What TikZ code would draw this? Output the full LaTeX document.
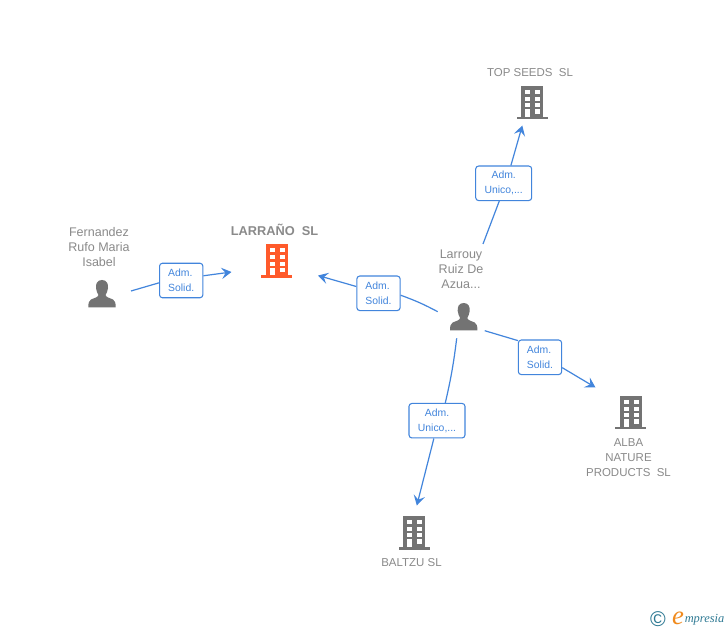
\documentclass[tikz,border=0pt]{standalone}
\usepackage{fontspec}
\setmainfont{Liberation Sans}
\newfontfamily\logofont{Liberation Serif}
\usetikzlibrary{arrows.meta}
\definecolor{linkblue}{HTML}{4285DC}
\definecolor{icongray}{HTML}{737373}
\definecolor{textgray}{HTML}{8A8A8A}
\definecolor{bldorange}{HTML}{FF5A2B}
\definecolor{logoteal}{HTML}{2F7A94}
\definecolor{logoorange}{HTML}{F08A1D}
\tikzset{
  x=0.75pt,y=-0.75pt,
  link/.style={draw=linkblue,line width=0.9pt},
  arrowed/.style={link,-{Stealth[length=7.5pt,width=8.5pt,inset=3pt]}},
  rolebox/.style={draw=linkblue,line width=0.8pt,rounded corners=2.2pt,fill=white,
    minimum height=25.9pt,inner sep=0pt,text=linkblue,font=\fontsize{7.8}{11.2}\selectfont,
    execute at begin node={\rule{0pt}{7.6pt}\ignorespaces}},
  narrow/.style={minimum width=32.5pt,align=left},
  wide/.style={minimum width=42pt,align=center},
  lbl/.style={text=textgray,align=center,inner sep=0pt,font=\fontsize{8.6}{11.25}\selectfont},
  lblmixed/.style={lbl,font=\fontsize{9.4}{11.25}\selectfont},
  pics/bld/.style={code={
    \fill[#1] (-11,0) rectangle (11,31);
    \fill[#1] (-15.5,31) rectangle (15.5,33.5);
    \foreach \wy in {4.1,10.8,17.4}{
      \fill[white] (-7.2,\wy) rectangle (-2.2,\wy+4);
      \fill[white] (2.8,\wy) rectangle (7.8,\wy+4);
    }
    \fill[white] (-6.9,23.4) rectangle (-2.2,31);
    \fill[white] (2.8,23.4) rectangle (7.8,27.9);
  }},
  pics/person/.style={code={
    \fill[icongray] (0,0) .. controls (-5,0) and (-6.3,4) .. (-6,8)
      .. controls (-5.8,11) and (-4.5,13) .. (-3.6,15)
      .. controls (-4,17.5) and (-8,18) .. (-11,19.5)
      .. controls (-13,20.5) and (-13.7,23) .. (-13.7,27.5)
      -- (13.7,27.5)
      .. controls (13.7,23) and (13,20.5) .. (11,19.5)
      .. controls (8,18) and (4,17.5) .. (3.6,15)
      .. controls (4.5,13) and (5.8,11) .. (6,8)
      .. controls (6.3,4) and (5,0) .. (0,0) -- cycle;
  }}
}
\begin{document}
\begin{tikzpicture}
\useasboundingbox (0,0) rectangle (728,630);
\fill[white] (0,0) rectangle (728,630);

% icons
\pic at (532,86) {bld=icongray};
\pic at (276.7,244.3) {bld=bldorange};
\pic at (630.7,396) {bld=icongray};
\pic at (414,516) {bld=icongray};
\pic at (102,280) {person};
\pic at (463.7,303) {person};

% labels
\node[lbl] (topl) at (530,72.5) {TOP SEEDS\ \ SL};
\node[lbl,font=\fontsize{9.6}{11.25}\selectfont\bfseries] (larl) at (274.5,230) {LARRAÑO\ \ SL};
\node[lblmixed] (ferl) at (99,247) {Fernandez\\Rufo Maria\\Isabel};
\node[lblmixed] (lrrl) at (461,269) {Larrouy\\Ruiz De\\Azua...};
\node[lbl] (albl) at (628.5,457.5) {ALBA\\NATURE\\PRODUCTS\ \ SL};
\node[lbl] (ball) at (411.5,562.5) {BALTZU SL};

% role boxes
\node[rolebox,narrow] (b1) at (181.2,280.5) {Adm.\\Solid.};
\node[rolebox,narrow] (b2) at (378.5,293.3) {Adm.\\Solid.};
\node[rolebox,wide]   (b3) at (503.7,183.3) {Adm.\\Unico,...};
\node[rolebox,narrow] (b4) at (540,357.3) {Adm.\\Solid.};
\node[rolebox,wide]   (b5) at (437,420.7) {Adm.\\Unico,...};

% connector ends
\coordinate (s1) at (131,291);
\coordinate (t1) at (231.5,272);
\coordinate (s2) at (437.7,311.7);
\coordinate (t2) at (318,275.5);
\coordinate (s3) at (483,244);
\coordinate (t3) at (522.3,125.5);
\coordinate (s4) at (484.7,330.7);
\coordinate (t4) at (595.5,387.5);
\coordinate (s5) at (456.7,338.3);
\coordinate (t5) at (416.8,505.5);

% connectors
\draw[link] (s1) -- (b1.186);
\draw[arrowed] (b1.12) -- (t1);
\draw[link] (s2) to[bend right=4] (b2.-5);
\draw[arrowed] (b2.163) -- (t2);
\draw[link] (s3) -- (b3.-104);
\draw[arrowed] (b3.68) -- (t3);
\draw[link] (s4) -- (b4.143);
\draw[arrowed] (b4.-25) -- (t4);
\draw[link] (s5) to[bend left=3] (b5.65);
\draw[arrowed] (b5.-100) -- (t5);

% logo
\node[inner sep=0pt,text=logoteal,font=\fontsize{16}{16}\selectfont] (copyr) at (658,619) {©};
\node[inner sep=0pt,text=logoorange,font=\logofont\itshape\fontsize{20}{20}\selectfont] (loge) at (678,618) {e};
\node[inner sep=0pt,text=logoteal,anchor=west,font=\logofont\itshape\fontsize{9.3}{10}\selectfont] (logot) at (684.5,620) {mpresia};
\end{tikzpicture}
\end{document}
